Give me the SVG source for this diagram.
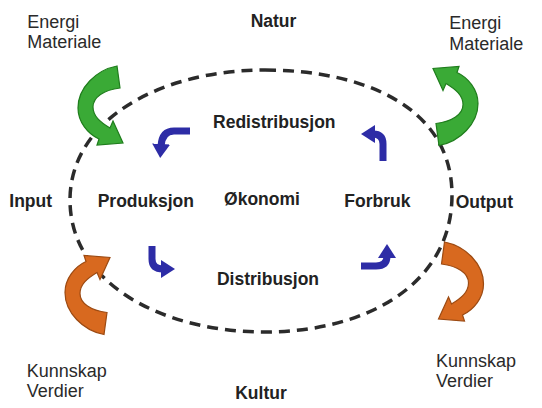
<svg xmlns="http://www.w3.org/2000/svg" width="542" height="408" viewBox="0 0 542 408">
<style>
.lbl{font-family:"Liberation Sans",Arial,sans-serif;font-size:17.5px;font-weight:bold;fill:#222}
.reg{font-family:"Liberation Sans",Arial,sans-serif;font-size:18px;fill:#2a2a2a}
.mid{text-anchor:middle}
.boundary{fill:none;stroke:#2b2b2b;stroke-width:3.5;stroke-dasharray:11 7}
.flow{fill:none;stroke:#2d2ca6;stroke-width:7;marker-end:url(#head)}
.green{fill:#3aaa36;stroke:#1f7d1c;stroke-width:1.2}
.orange{fill:#d8691f;stroke:#9c4a12;stroke-width:1.2}
</style>
<defs>
<marker id="head" markerUnits="userSpaceOnUse" markerWidth="14" markerHeight="18" viewBox="0 0 14 18" refX="2" refY="9" orient="auto">
<path d="M0,0 L14,9 L0,18 Z" fill="#2d2ca6"/>
</marker>
<path id="curl" d="M117,66 C96,70 78,88 78,108 C78,122 88,134 99,139 L97,145 L123,143 L113,121 L110,128 C100,122 93,116 93,107 C93,97 104,90 120,88 Z"/>
</defs>
<rect width="542" height="408" fill="#fff"/>
<g id="boundary">
<path class="boundary" d="M265,70 C360,70 452,105 452,195 C452,285 365,332 265,332 C160,332 70,282 70,200 C70,120 160,70 265,70 Z"/>
</g>
<g id="natur"><text class="lbl mid" x="273.5" y="26.7">Natur</text></g>
<g id="kultur"><text class="lbl mid" x="261" y="399">Kultur</text></g>
<g id="input-energi">
<text class="reg" x="27.3" y="28.3">Energi</text>
<text class="reg" x="27.3" y="48.3">Materiale</text>
<use href="#curl" class="green"/>
</g>
<g id="output-energi">
<text class="reg" x="449.3" y="29.3">Energi</text>
<text class="reg" x="449.3" y="50">Materiale</text>
<use href="#curl" class="green" transform="translate(556,211.5) scale(-1,-1)"/>
</g>
<g id="input-kunnskap">
<use href="#curl" class="orange" transform="translate(-13,400.5) scale(1,-1)"/>
<text class="reg" x="26.7" y="377">Kunnskap</text>
<text class="reg" x="26.7" y="397">Verdier</text>
</g>
<g id="output-kunnskap">
<use href="#curl" class="orange" transform="translate(561.5,176) scale(-1,1)"/>
<text class="reg" x="436" y="367">Kunnskap</text>
<text class="reg" x="436" y="387">Verdier</text>
</g>
<g id="input"><text class="lbl" x="9.3" y="207">Input</text></g>
<g id="output"><text class="lbl" x="455.7" y="208">Output</text></g>
<g id="produksjon"><text class="lbl" x="97.7" y="207">Produksjon</text></g>
<g id="okonomi"><text class="lbl mid" x="262" y="205">Økonomi</text></g>
<g id="forbruk"><text class="lbl" x="344.3" y="207">Forbruk</text></g>
<g id="redistribusjon"><text class="lbl mid" x="274.3" y="128.3">Redistribusjon</text></g>
<g id="distribusjon"><text class="lbl mid" x="268" y="285">Distribusjon</text></g>
<g id="connectors">
<path class="flow" d="M190,131 L174,131 Q162,131 161,146"/>
<path class="flow" d="M383,161 L383,144 Q383,134 373,134"/>
<path class="flow" d="M152,246 L152,259 Q152,269 163,269"/>
<path class="flow" d="M361,266 L376,266 Q387,266 387,256"/>
</g>
</svg>
